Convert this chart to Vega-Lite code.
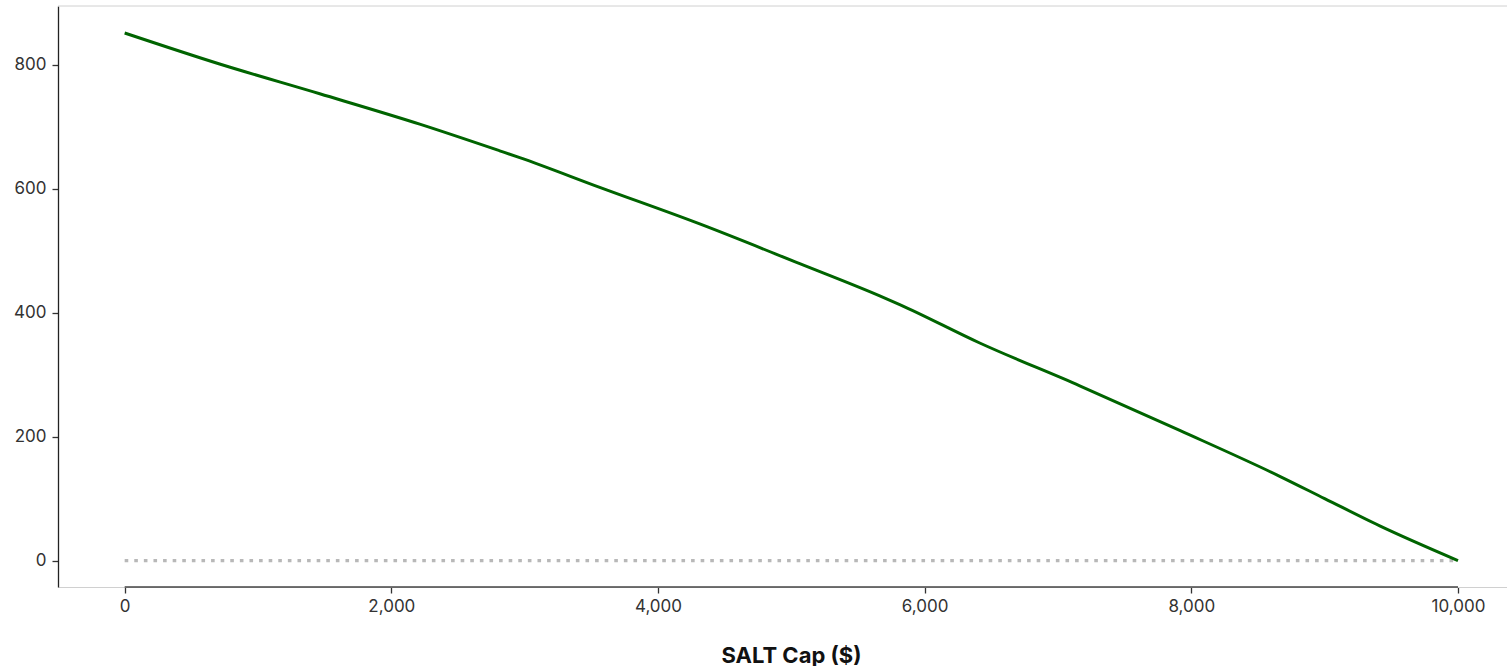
{
  "$schema": "https://vega.github.io/schema/vega-lite/v6.json",
  "autosize": "none",
  "padding": {"left": 58, "top": 6, "right": 0, "bottom": 79},
  "width": 1449,
  "height": 581,
  "background": "white",
  "config": {
    "font": "Inter",
    "view": {"stroke": null},
    "axis": {"grid": false, "labelFont": "Inter", "labelFontSize": 17, "labelColor": "#333333", "tickColor": "#333333", "tickSize": 6, "tickWidth": 1.3}
  },
  "datasets": {
    "curve": [
      {"cap": 0, "change": 851},
      {"cap": 712, "change": 801},
      {"cap": 1463, "change": 753},
      {"cap": 2213, "change": 704},
      {"cap": 2813, "change": 661},
      {"cap": 2963, "change": 650},
      {"cap": 3563, "change": 602},
      {"cap": 4313, "change": 543},
      {"cap": 5063, "change": 479},
      {"cap": 5663, "change": 427},
      {"cap": 5813, "change": 413},
      {"cap": 6413, "change": 351},
      {"cap": 7163, "change": 282},
      {"cap": 7913, "change": 210},
      {"cap": 8663, "change": 136},
      {"cap": 9000, "change": 100},
      {"cap": 9413, "change": 56},
      {"cap": 10000, "change": 0}
    ],
    "refs": [
      {"start": 0, "end": 10000, "zero": 0, "bottom": -42.6, "left": -500, "right": 10367.5, "top": 894.6}
    ]
  },
  "layer": [
    {
      "data": {"name": "refs"},
      "mark": {"type": "rule", "color": "#d0d0d0", "strokeWidth": 1},
      "encoding": {
        "x": {"field": "left", "type": "quantitative"},
        "x2": {"field": "right"},
        "y": {"field": "top", "type": "quantitative"}
      }
    },
    {
      "data": {"name": "refs"},
      "mark": {"type": "rule", "color": "#b8b8b8", "strokeWidth": 3.2, "strokeDash": [3.6, 6], "strokeCap": "butt"},
      "encoding": {
        "x": {"field": "start", "type": "quantitative"},
        "x2": {"field": "end"},
        "y": {"field": "zero", "type": "quantitative"}
      }
    },
    {
      "data": {"name": "refs"},
      "mark": {"type": "rule", "color": "#444444", "strokeWidth": 1.6},
      "encoding": {
        "x": {"field": "start", "type": "quantitative"},
        "x2": {"field": "end"},
        "y": {"field": "bottom", "type": "quantitative"}
      }
    },
    {
      "data": {"name": "curve"},
      "mark": {"type": "line", "color": "#006400", "strokeWidth": 3, "interpolate": "monotone"},
      "encoding": {
        "x": {
          "field": "cap", "type": "quantitative",
          "scale": {"domain": [-500, 10367.5], "nice": false, "zero": false},
          "axis": {
            "title": "SALT Cap ($)", "titleFont": "Inter", "titleFontSize": 22, "titleFontWeight": "bold", "titleColor": "#111111",
            "titleX": 733, "titlePadding": 31,
            "values": [0, 2000, 4000, 6000, 8000, 10000], "format": ",d",
            "domain": true, "domainColor": "#d0d0d0", "domainWidth": 1, "labelPadding": 5, "labelFlush": false
          }
        },
        "y": {
          "field": "change", "type": "quantitative",
          "scale": {"domain": [-42.6, 894.6], "nice": false, "zero": false},
          "axis": {
            "title": null, "values": [0, 200, 400, 600, 800],
            "domain": true, "domainColor": "#222222", "domainWidth": 1.3, "labelPadding": 6, "labelFlush": false
          }
        }
      }
    }
  ]
}
